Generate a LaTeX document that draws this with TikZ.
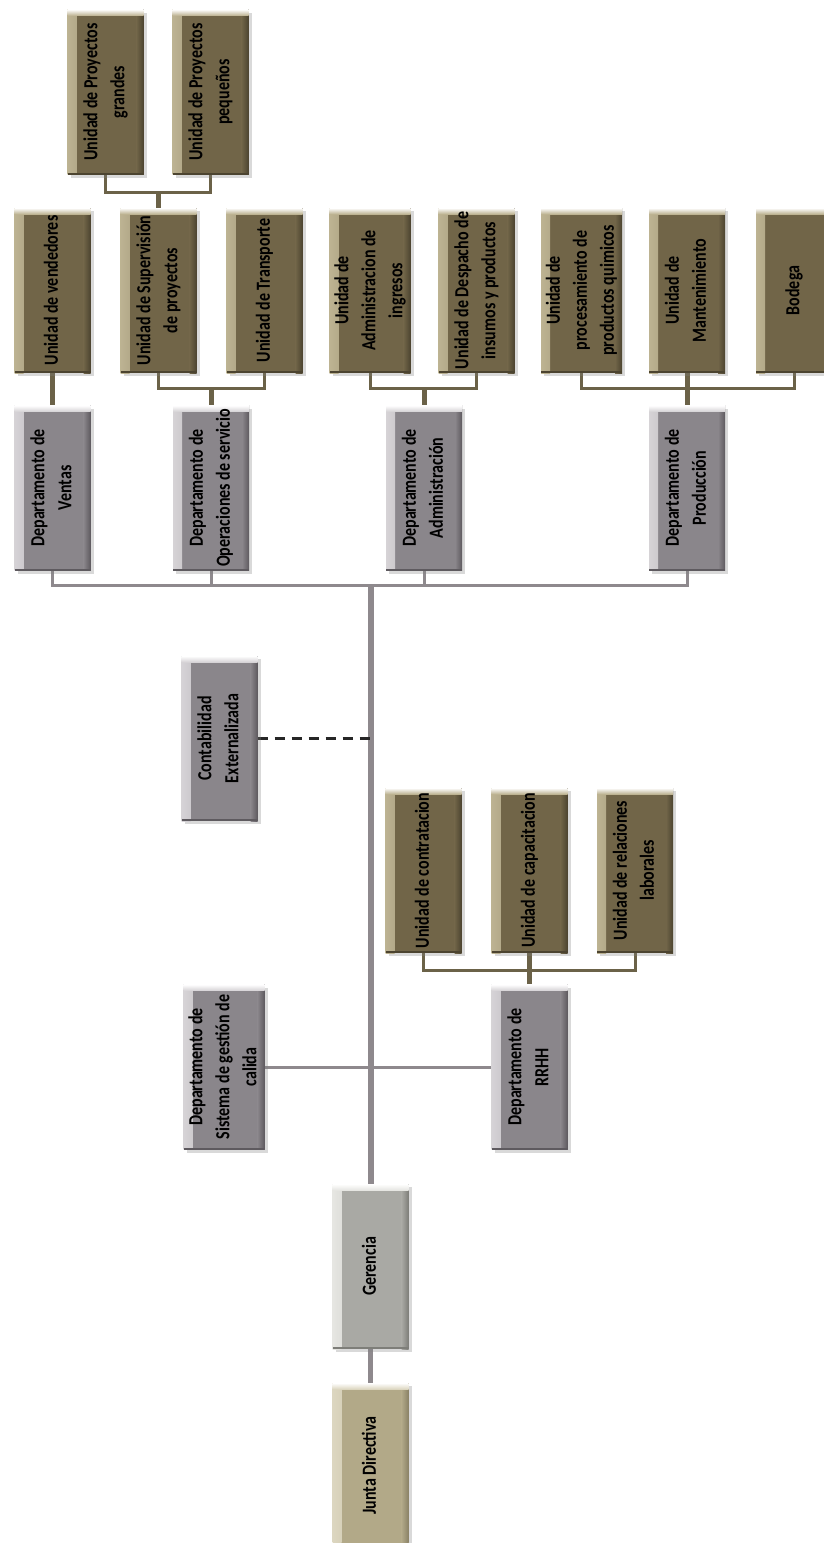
\documentclass[tikz,border=0pt]{standalone}
\usepackage{fontspec}
\usetikzlibrary{shadows,backgrounds}
\newfontfamily\boxfont[FakeStretch=0.8]{Carlito}
\definecolor{olB}{HTML}{716548}
\definecolor{olL}{HTML}{BDB392}
\definecolor{olD}{HTML}{4C4430}
\definecolor{grB}{HTML}{8A868B}
\definecolor{grL}{HTML}{D6D3D6}
\definecolor{grD}{HTML}{5E5A5F}
\definecolor{geB}{HTML}{A9A9A4}
\definecolor{geL}{HTML}{E6E6E2}
\definecolor{geD}{HTML}{7E7E79}
\definecolor{juB}{HTML}{B2A988}
\definecolor{juL}{HTML}{DCD6C0}
\definecolor{juD}{HTML}{8A8266}
\definecolor{olLine}{HTML}{6B6248}
\definecolor{grLine}{HTML}{8E898D}
\newcommand\rt[1]{\rotatebox{90}{\begin{tabular}{@{}c@{}}#1\end{tabular}}}
\tikzset{
  bevel/.style n args={3}{fill=#1, path picture={
    \fill[left color=#2, right color=#1] (path picture bounding box.north west) rectangle ([xshift=9pt]path picture bounding box.south west);
    \fill[left color=#1, right color=#3] ([xshift=-7pt]path picture bounding box.north east) rectangle (path picture bounding box.south east);
    \fill[top color=white, bottom color=#2] (path picture bounding box.north west) rectangle ([yshift=-6pt]path picture bounding box.north east);
    \fill[#3] (path picture bounding box.south west) rectangle ([yshift=2pt]path picture bounding box.south east);
  }},
  box/.style={minimum width=76pt, minimum height=165pt, inner sep=0pt, draw=none,
    drop shadow={opacity=.3, shadow xshift=3pt, shadow yshift=-3pt},
    font=\boxfont\bfseries\fontsize{20}{27}\selectfont, text=black},
  unit/.style={box, bevel={olB}{olL}{olD}},
  dept/.style={box, bevel={grB}{grL}{grD}},
  gere/.style={box, bevel={geB}{geL}{geD}},
  junta/.style={box, bevel={juB}{juL}{juD}},
  obr/.style={draw=olLine, line width=3pt},
  ostem/.style={draw=olLine, line width=5pt},
  gbr/.style={draw=grLine, line width=3pt},
  trunk/.style={draw=grLine, line width=6pt},
  ext/.style={draw=black!85, line width=3pt, dash pattern=on 10pt off 7pt},
}
\begin{document}
\begin{tikzpicture}[x=1pt,y=-1pt]
\useasboundingbox (0,0) rectangle (823,1543);
% top level units
\node[unit] (PG) at (105.5,92) {\rt{Unidad de Proyectos\\grandes}};
\node[unit] (PP) at (210.5,92) {\rt{Unidad de Proyectos\\pequeños}};
% second row units
\node[unit] (UV) at (52.5,290.5) {\rt{Unidad de vendedores}};
\node[unit] (US) at (158.5,290.5) {\rt{Unidad de Supervisión\\de proyectos}};
\node[unit] (UT) at (264.5,290.5) {\rt{Unidad de Transporte}};
\node[unit] (UA) at (370,290.5) {\rt{Unidad de\\Administracion de\\ingresos}};
\node[unit] (UD) at (476.5,290.5) {\rt{Unidad de Despacho de\\insumos y productos}};
\node[unit] (UP) at (581.5,290.5) {\rt{Unidad de\\procesamiento de\\productos quimicos}};
\node[unit] (UM) at (687,290.5) {\rt{Unidad de\\Mantenimiento}};
\node[unit] (UB) at (794,290.5) {\rt{Bodega}};
% departments
\node[dept] (DV) at (52.5,488) {\rt{Departamento de\\Ventas}};
\node[dept] (DO) at (211,488) {\rt{Departamento de\\Operaciones de servicio}};
\node[dept] (DA) at (424,488) {\rt{Departamento de\\Administración}};
\node[dept] (DP) at (687,488) {\rt{Departamento de\\Producción}};
% staff
\node[dept] (CE) at (219.5,738.5) {\rt{Contabilidad\\Externalizada}};
\node[dept] (SG) at (224,1067) {\rt{Departamento de\\Sistema de gestión de\\calida}};
\node[dept] (RR) at (529.5,1067) {\rt{Departamento de\\RRHH}};
\node[unit] (RC) at (423.5,870.5) {\rt{Unidad de contratacion}};
\node[unit] (RK) at (529.5,870.5) {\rt{Unidad de capacitacion}};
\node[unit] (RL) at (635,870.5) {\rt{Unidad de relaciones\\laborales}};
% top management
\node[gere] (G) at (370.5,1266.5) {\rt{Gerencia}};
\node[junta] (J) at (370.5,1465.5) {\rt{Junta Directiva}};
% connector junctions
\coordinate (b1) at (158.5,192);
\coordinate (b2) at (211,388);
\coordinate (b3) at (424,388);
\coordinate (b5) at (687,388);
\coordinate (b4) at (529.5,970);
\coordinate (t1) at (370.5,585);
\begin{scope}[on background layer]
  \draw[obr] (PG.south) |- (b1) -| (PP.south);
  \draw[ostem] (b1) -- (US.north);
  \draw[ostem] (UV.south) -- (DV.north);
  \draw[obr] (US.south) |- (b2) -| (UT.south);
  \draw[ostem] (b2) -- (DO.north);
  \draw[obr] (UA.south) |- (b3) -| (UD.south);
  \draw[ostem] (b3) -- (DA.north);
  \draw[obr] (UP.south) |- (b5) -| (UB.south);
  \draw[ostem] (UM.south) -- (DP.north);
  \draw[gbr] (DV.south) |- (t1) -| (DP.south);
  \draw[gbr] (DO.south) -- (DO.south |- t1);
  \draw[gbr] (DA.south) -- (DA.south |- t1);
  \draw[trunk] (t1) -- (G.north);
  \draw[ext] (CE.east) -- (CE.east -| G.north);
  \draw[gbr] (SG.east) -- (RR.west);
  \draw[obr] (RC.south) |- (b4) -| (RL.south);
  \draw[ostem] (RK.south) -- (RR.north);
  \draw[draw=grLine, line width=5pt] (G.south) -- (J.north);
\end{scope}
\end{tikzpicture}
\end{document}
